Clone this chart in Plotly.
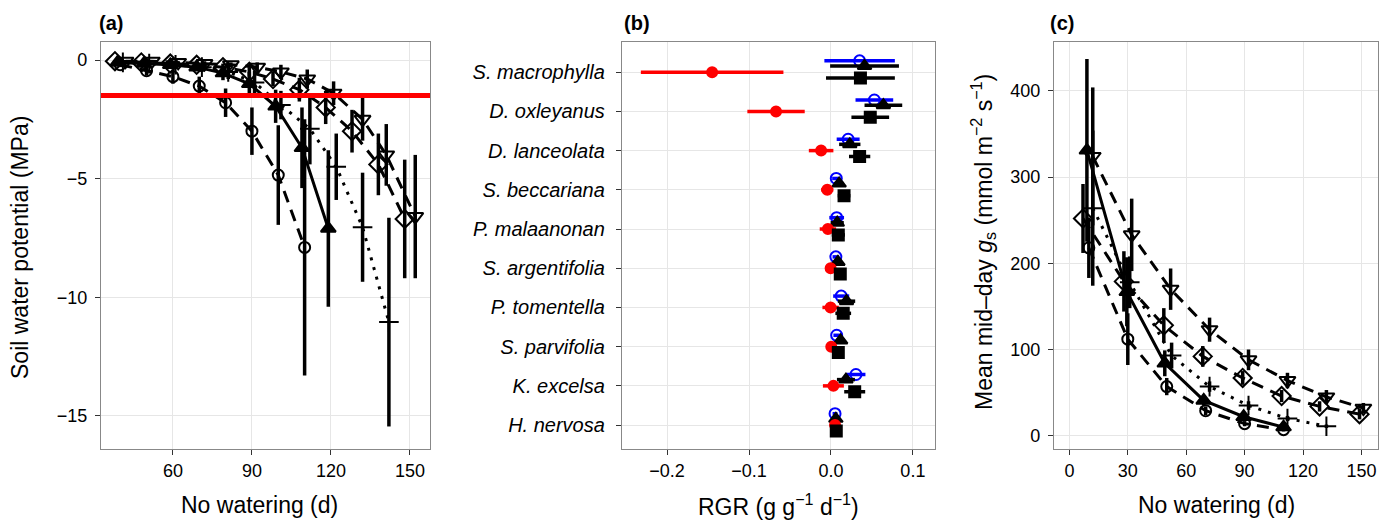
import plotly.graph_objects as go

# ---- panel (a): soil water potential vs days without watering ----
a_days_circle = [40, 50, 60, 70, 80, 90, 100, 110]
a_swp_circle = [-0.2, -0.45, -0.7, -1.1, -1.8, -3.0, -4.85, -7.9]
a_se_circle = [0.1, 0.2, 0.3, 0.4, 0.6, 1.0, 2.1, 5.4]

a_days_tri = [39, 49, 59, 69, 79, 89, 99, 109, 119]
a_swp_tri = [-0.1, -0.15, -0.2, -0.3, -0.55, -1.0, -1.95, -3.7, -7.1]
a_se_tri = [0.05, 0.1, 0.1, 0.15, 0.3, 0.5, 0.7, 1.7, 3.3]

a_days_plus = [41, 51, 61, 71, 81, 91, 101, 112, 122, 132, 142]
a_swp_plus = [-0.1, -0.15, -0.2, -0.3, -0.5, -0.95, -1.9, -2.9, -4.5, -7.05, -11.05]
a_se_plus = [0.05, 0.1, 0.1, 0.2, 0.3, 0.5, 0.6, 1.5, 1.4, 2.3, 4.4]

a_days_dia = [38, 48, 59, 69, 79, 89, 98, 108, 118, 128, 138, 148]
a_swp_dia = [-0.05, -0.1, -0.15, -0.2, -0.3, -0.5, -0.8, -1.25, -2.0, -3.0, -4.4, -6.7]
a_se_dia = [0.05, 0.05, 0.1, 0.1, 0.15, 0.2, 0.3, 0.5, 0.7, 0.9, 1.3, 2.5]

a_days_dtri = [42, 52, 62, 72, 82, 92, 101, 111, 121, 132, 141, 152]
a_swp_dtri = [-0.05, -0.05, -0.1, -0.15, -0.2, -0.3, -0.5, -0.8, -1.4, -2.5, -4.0, -6.6]
a_se_dtri = [0.05, 0.05, 0.05, 0.1, 0.1, 0.2, 0.3, 0.4, 0.5, 0.9, 1.3, 2.6]

threshold_mpa = -1.5

# ---- panel (b): RGR per species ----
species = ["S. macrophylla", "D. oxleyanus", "D. lanceolata", "S. beccariana",
           "P. malaanonan", "S. argentifolia", "P. tomentella", "S. parvifolia",
           "K. excelsa", "H. nervosa"]
rgr_blue = [0.035, 0.053, 0.021, 0.0065, 0.007, 0.006, 0.0125, 0.007, 0.0305, 0.005]
se_blue = [0.043, 0.023, 0.014, 0.005, 0.009, 0.004, 0.0098, 0.004, 0.0116, 0.003]
rgr_tri = [0.041, 0.064, 0.023, 0.010, 0.0077, 0.0085, 0.019, 0.0118, 0.0183, 0.006]
se_tri = [0.042, 0.023, 0.013, 0.006, 0.008, 0.005, 0.0106, 0.005, 0.011, 0.003]
rgr_red = [-0.145, -0.067, -0.012, -0.0045, -0.0037, -0.0004, -0.0004, 0.0004, 0.003, 0.005]
se_red = [0.087, 0.035, 0.015, 0.0075, 0.01, 0.003, 0.01, 0.004, 0.0128, 0.002]
rgr_sq = [0.036, 0.048, 0.035, 0.016, 0.009, 0.0114, 0.015, 0.009, 0.029, 0.0065]
se_sq = [0.042, 0.023, 0.013, 0.0077, 0.008, 0.003, 0.0096, 0.003, 0.0128, 0.002]

# ---- panel (c): mid-day stomatal conductance ----
c_days_circle = [10, 30, 50, 70, 90, 110]
c_gs_circle = [218, 112, 57, 29, 14, 7]
c_se_circle = [35, 30, 10, 5, 3, 2]

c_days_tri = [9, 29.5, 49, 69, 89.5, 110]
c_gs_tri = [331, 167, 84, 41, 22, 10]
c_se_tri = [106, 40, 15, 6, 4, 2]

c_days_plus = [12, 31, 52.5, 72, 92, 112, 132]
c_gs_plus = [264, 178, 93, 57, 35, 20, 11]
c_se_plus = [90, 30, 15, 6, 5, 3, 2]

c_days_dia = [7, 28, 48.5, 68.5, 89, 109, 128.5, 149]
c_gs_dia = [252, 179, 128, 92, 67, 46, 34, 25]
c_se_dia = [40, 35, 20, 12, 8, 7, 6, 6]

c_days_dtri = [12, 32, 52, 72, 92, 112, 132, 151]
c_gs_dtri = [324, 233, 170, 123, 88, 64, 45, 32]
c_se_dtri = [80, 42, 24, 14, 12, 9, 8, 6]

# the page body adds an 8px margin, so the figure is 16px smaller and
# every reference pixel position is shifted by -8
OFF = 8
W, H = 1392 - 2 * OFF, 522 - OFF
FONT = "Liberation Sans, Arial, Helvetica, sans-serif"
DASH = "12px,8px"
DOT = "3px,7px"

styles = [
    # (symbol, dash, size)
    ("circle-open", DASH, 11),
    ("triangle-up", "solid", 13),
    ("cross-thin-open", DOT, 14),
    ("diamond-open", DASH, 14),
    ("triangle-down-open", DASH, 14),
]

fig = go.Figure()

a_sets = [
    (a_days_circle, a_swp_circle, a_se_circle),
    (a_days_tri, a_swp_tri, a_se_tri),
    (a_days_plus, a_swp_plus, a_se_plus),
    (a_days_dia, a_swp_dia, a_se_dia),
    (a_days_dtri, a_swp_dtri, a_se_dtri),
]
c_sets = [
    (c_days_circle, c_gs_circle, c_se_circle),
    (c_days_tri, c_gs_tri, c_se_tri),
    (c_days_plus, c_gs_plus, c_se_plus),
    (c_days_dia, c_gs_dia, c_se_dia),
    (c_days_dtri, c_gs_dtri, c_se_dtri),
]

for sets, xa, ya in [(a_sets, "x", "y"), (c_sets, "x3", "y3")]:
    for (xs, ys, es), (sym, dash, size) in zip(sets, styles):
        fig.add_trace(go.Scatter(
            x=xs, y=ys, xaxis=xa, yaxis=ya, mode="lines+markers",
            line=dict(color="black", width=3, dash=dash),
            marker=dict(symbol=sym, size=size, color="black",
                        line=dict(color="black", width=2)),
            error_y=dict(type="data", array=es, color="black", thickness=3.5, width=0),
            showlegend=False, cliponaxis=False,
        ))

# panel (b): dodge the four treatments vertically within each species row
b_sets = [
    (rgr_blue, se_blue, -0.29, "circle-open", "blue", 11),
    (rgr_tri, se_tri, -0.16, "triangle-up", "black", 12),
    (rgr_red, se_red, 0.0, "circle", "red", 10),
    (rgr_sq, se_sq, 0.15, "square", "black", 11),
]
for vals, errs, off, sym, col, size in b_sets:
    fig.add_trace(go.Scatter(
        x=vals, y=[i + off for i in range(len(species))], xaxis="x2", yaxis="y2",
        mode="markers",
        marker=dict(symbol=sym, size=size, color=col, line=dict(color=col, width=2)),
        error_x=dict(type="data", array=errs, color=col, thickness=3.5, width=0),
        showlegend=False,
    ))

frame = dict(showline=True, mirror=True, linecolor="#888888", linewidth=1.3,
             showgrid=True, gridcolor="#e6e6e6", gridwidth=1, zeroline=False,
             ticks="outside", ticklen=5, tickcolor="#333333",
             tickfont=dict(family=FONT, size=18, color="black"))


def fx(px):
    # reference pixel column -> paper fraction
    return (px - OFF) / W


def px_y(py):
    # reference pixel row -> paper fraction (plot area spans rows 42..449)
    return (449 - py) / 407


doms = [(fx(101), fx(430)), (fx(622), fx(935)), (fx(1054), fx(1378))]

fig.update_layout(
    width=W, height=H,
    margin=dict(l=0, r=0, t=42 - OFF, b=H - (449 - OFF)),
    plot_bgcolor="white", paper_bgcolor="white",
    font=dict(family=FONT, color="black"),
    xaxis=dict(frame, domain=doms[0], range=[32.7, 157.6], tickvals=[60, 90, 120, 150]),
    yaxis=dict(frame, anchor="x", range=[-16.4, 0.76], tickvals=[0, -5, -10, -15],
               ticklabelstandoff=4),
    xaxis2=dict(frame, domain=doms[1], anchor="y2", range=[-0.255, 0.127],
                tickvals=[-0.2, -0.1, 0.0, 0.1], tickformat=".1f"),
    yaxis2=dict(frame, anchor="x2", range=[9.61, -0.77],
                tickvals=list(range(len(species))),
                ticktext=[f"<i>{s}</i>" for s in species], ticklabelstandoff=7),
    xaxis3=dict(frame, domain=doms[2], anchor="y3", range=[-7.9, 158.5],
                tickvals=[0, 30, 60, 90, 120, 150]),
    yaxis3=dict(frame, anchor="x3", range=[-15.4, 456.7],
                tickvals=[0, 100, 200, 300, 400], ticklabelstandoff=4),
)
fig.update_layout(yaxis2_tickfont_size=20)

fig.add_shape(type="line", xref="x domain", yref="y", x0=0, x1=1,
              y0=threshold_mpa, y1=threshold_mpa, line=dict(color="red", width=5))

anns = [
    dict(text="<b>(a)</b>", x=fx(97), y=px_y(23), xanchor="left", font_size=20),
    dict(text="<b>(b)</b>", x=fx(622), y=px_y(23), xanchor="left", font_size=20),
    dict(text="<b>(c)</b>", x=fx(1048), y=px_y(23), xanchor="left", font_size=20),
    dict(text="No watering (d)", x=fx(259), y=px_y(505), font_size=23),
    dict(text="RGR (g g<sup>−1</sup> d<sup>−1</sup>)", x=fx(778), y=px_y(505), font_size=23),
    dict(text="No watering (d)", x=fx(1216), y=px_y(505), font_size=23),
    dict(text="Soil water potential (MPa)", x=fx(20), y=px_y(248), textangle=-90, font_size=23),
    dict(text="Mean mid–day <i>g</i><sub>s</sub> (mmol m<sup>−2</sup> s<sup>−1</sup>)",
         x=fx(983), y=px_y(242), textangle=-90, font_size=23),
]
for a in anns:
    a.setdefault("xanchor", "center")
    fig.add_annotation(xref="paper", yref="paper", yanchor="middle", showarrow=False,
                       font=dict(family=FONT, color="black", size=a.pop("font_size")), **a)

fig.write_html("out.html")
